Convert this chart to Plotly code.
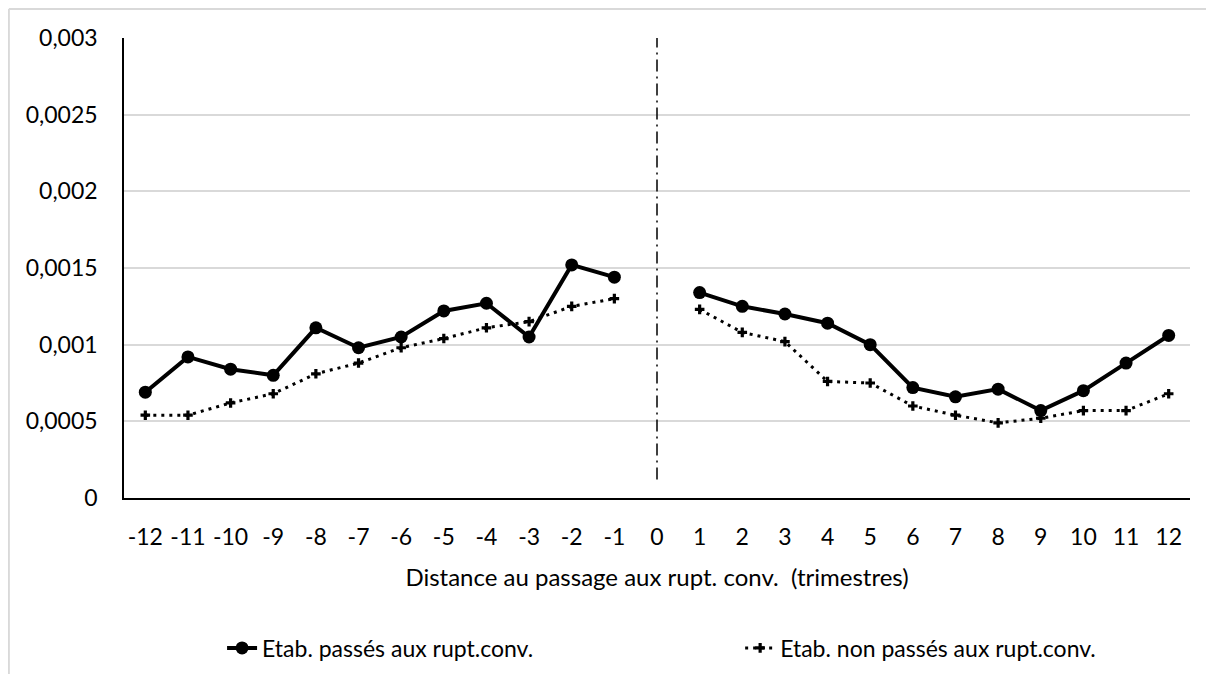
import plotly.graph_objects as go

quarters = list(range(-12, 13))
passes = [0.00069, 0.00092, 0.00084, 0.00080, 0.00111, 0.00098, 0.00105, 0.00122, 0.00127, 0.00105, 0.00152, 0.00144,
          None,
          0.00134, 0.00125, 0.00120, 0.00114, 0.00100, 0.00072, 0.00066, 0.00071, 0.00057, 0.00070, 0.00088, 0.00106]
non_passes = [0.00054, 0.00054, 0.00062, 0.00068, 0.00081, 0.00088, 0.00098, 0.00104, 0.00111, 0.00115, 0.00125, 0.00130,
              None,
              0.00123, 0.00108, 0.00102, 0.00076, 0.00075, 0.00060, 0.00054, 0.00049, 0.00052, 0.00057, 0.00057, 0.00068]
vline_x = [0, 0]
vline_y = [0.00012, 0.003]
y_ticks = [0, 0.0005, 0.001, 0.0015, 0.002, 0.0025, 0.003]
y_ticktext = ["0", "0,0005", "0,001", "0,0015", "0,002", "0,0025", "0,003"]
x_ticktext = [str(q) for q in quarters]

FONT = "Lato"

fig = go.Figure()
fig.add_trace(go.Scatter(
    x=vline_x, y=vline_y, mode="lines", showlegend=False, hoverinfo="skip",
    line=dict(color="black", width=1.5, dash="12px,5px,2px,5px"),
))
fig.add_trace(go.Scatter(
    x=quarters, y=passes, mode="lines+markers", name="Etab. passés aux rupt.conv.",
    line=dict(color="black", width=4), marker=dict(symbol="circle", size=13, color="black"),
    connectgaps=False, legend="legend",
))
fig.add_trace(go.Scatter(
    x=quarters, y=non_passes, mode="lines+markers", name="Etab. non passés aux rupt.conv.",
    line=dict(color="black", width=3, dash="3px,5px"), marker=dict(symbol="cross", size=8, color="black"),
    connectgaps=False, legend="legend2",
))

fig.update_layout(
    width=1198, height=666,
    margin=dict(l=116, r=16, t=30, b=176, autoexpand=False),
    paper_bgcolor="white", plot_bgcolor="white",
    font=dict(family=FONT, size=24, color="black"),
    legend=dict(orientation="h", x=0.092, xanchor="left", y=-0.326, yanchor="middle",
                font=dict(size=23)),
    legend2=dict(orientation="h", x=0.578, xanchor="left", y=-0.326, yanchor="middle",
                 font=dict(size=23)),
    xaxis=dict(range=[-12.5, 12.5], tickmode="array", tickvals=quarters, ticktext=x_ticktext,
               showgrid=False, zeroline=False, showline=True, linecolor="black", linewidth=1.5,
               ticks="", ticklen=0, tickfont=dict(size=23), ticklabelstandoff=18, automargin=False,
               title=dict(text="Distance au passage aux rupt. conv.  (trimestres)", font=dict(size=24), standoff=20)),
    yaxis=dict(range=[0, 0.003], tickmode="array", tickvals=y_ticks, ticktext=y_ticktext,
               showgrid=True, gridcolor="#d9d9d9", gridwidth=1.5, zeroline=False, automargin=False,
               showline=True, linecolor="black", linewidth=1.5, ticks="", tickfont=dict(size=23),
               ticklabelstandoff=20),
    shapes=[
        dict(type="line", xref="paper", yref="paper", x0=-0.108, x1=1.1, y0=1.063, y1=1.063,
             line=dict(color="#d9d9d9", width=2)),
        dict(type="line", xref="paper", yref="paper", x0=-0.108, x1=-0.108, y0=1.063, y1=-0.45,
             line=dict(color="#d9d9d9", width=2)),
    ],
)

fig.write_html("out.html")
